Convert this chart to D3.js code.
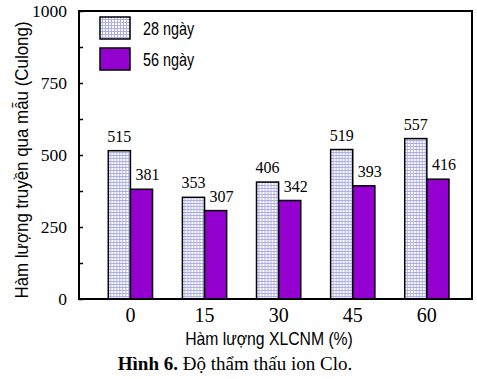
<!DOCTYPE html>
<html lang="vi">
<head>
<meta charset="UTF-8"/>
<title>Độ thẩm thấu ion Clo</title>
<script src="https://d3js.org/d3.v7.min.js"></script>
<style>
  body { margin: 0; background: #fff; }
  .tick text { font-family: "Liberation Serif", "Times New Roman", serif; fill: #000; }
  .sans { font-family: "Liberation Sans", Arial, sans-serif; }
</style>
</head>
<body>
<script>
    // Data
    var categories = ["0", "15", "30", "45", "60"];
    var seriesNames = ["28 ngày", "56 ngày"];
    var values28 = [515, 353, 406, 519, 557];
    var values56 = [381, 307, 342, 393, 416];
    var yTicks = [0, 250, 500, 750, 1000];
    var yMinorTicks = [125, 375, 625, 875];

    var w = 477, h = 379;
    var plotLeft = 79, plotRight = 472, plotTop = 11, plotBottom = 299;

    var table = categories.map(function (c, i) {
        return { cat: c, vals: [values28[i], values56[i]] };
    });

    var svg = d3.select("body").append("svg")
        .attr("width", w)
        .attr("height", h);

    // dotted lavender pattern for the 28-day bars
    var defs = svg.append("defs");
    var pat = defs.append("pattern")
        .attr("id", "dots")
        .attr("width", 3).attr("height", 3)
        .attr("patternUnits", "userSpaceOnUse");
    pat.append("rect").attr("width", 3).attr("height", 3).attr("fill", "#aeaee6");
    pat.append("rect").attr("width", 2).attr("height", 2).attr("fill", "#ffffff");

    var fills = ["url(#dots)", "#9400cf"];
    var labelShift = [0, 6];

    // Scales
    var x = d3.scaleBand()
        .domain(categories)
        .range([plotLeft, plotRight])
        .paddingInner(0.403)
        .paddingOuter(0.353)
        .align(0.56);

    var xSub = d3.scaleBand()
        .domain(d3.range(seriesNames.length))
        .range([0, x.bandwidth()]);

    var y = d3.scaleLinear()
        .domain([0, 1000])
        .range([plotBottom, plotTop]);

    // Bars
    var groups = svg.selectAll("g.cat")
        .data(table)
        .enter()
        .append("g")
        .attr("class", "cat")
        .attr("transform", function (d) { return "translate(" + x(d.cat) + ",0)"; });

    groups.selectAll("rect")
        .data(function (d) { return d.vals; })
        .enter()
        .append("rect")
        .attr("x", function (d, i) { return xSub(i); })
        .attr("y", function (d) { return y(d); })
        .attr("width", xSub.bandwidth())
        .attr("height", function (d) { return y(0) - y(d); })
        .attr("fill", function (d, i) { return fills[i]; })
        .attr("stroke", "#000")
        .attr("stroke-width", 1.5);

    groups.selectAll("text")
        .data(function (d) { return d.vals; })
        .enter()
        .append("text")
        .attr("x", function (d, i) { return xSub(i) + xSub.bandwidth() / 2 + labelShift[i]; })
        .attr("y", function (d) { return y(d) - 9; })
        .attr("text-anchor", "middle")
        .style("font-family", "'Liberation Serif', 'Times New Roman', serif")
        .style("font-size", "16px")
        .text(function (d) { return d; });

    // Y axis (ticks inward)
    var yAxis = svg.append("g")
        .attr("transform", "translate(" + plotLeft + ",0)")
        .call(d3.axisLeft(y).tickValues(yTicks).tickSize(-4).tickPadding(12).tickFormat(d3.format("d")));
    yAxis.selectAll(".tick text").style("font-size", "17.5px");
    yAxis.select(".domain").remove();

    svg.append("g")
        .attr("transform", "translate(" + plotLeft + ",0)")
        .call(d3.axisLeft(y).tickValues(yMinorTicks).tickSize(-4).tickFormat(""))
        .select(".domain").remove();

    svg.selectAll(".tick line").attr("stroke", "#000").attr("stroke-width", 1.5);

    // X axis labels
    var xAxis = svg.append("g")
        .attr("transform", "translate(0," + plotBottom + ")")
        .call(d3.axisBottom(x).tickSize(0).tickPadding(9));
    xAxis.selectAll(".tick text").style("font-size", "20px").attr("dy", "0.71em");
    xAxis.select(".domain").remove();

    // Frame
    svg.append("rect")
        .attr("x", plotLeft).attr("y", plotTop)
        .attr("width", plotRight - plotLeft).attr("height", plotBottom - plotTop)
        .attr("fill", "none")
        .attr("stroke", "#000")
        .attr("stroke-width", 2);

    // Legend
    var legend = svg.append("g").attr("transform", "translate(100,17)");
    seriesNames.forEach(function (name, i) {
        legend.append("rect")
            .attr("x", 0).attr("y", i * 31)
            .attr("width", 30).attr("height", 22)
            .attr("fill", fills[i])
            .attr("stroke", "#000")
            .attr("stroke-width", 1.5);
        legend.append("text")
            .attr("class", "sans")
            .attr("transform", "translate(43," + (i * 31 + 18) + ") scale(0.8,1)")
            .style("font-size", "18px")
            .text(name);
    });

    // Axis titles
    svg.append("text")
        .attr("class", "sans")
        .attr("transform", "translate(28,160) rotate(-90) scale(0.94,1)")
        .attr("text-anchor", "middle")
        .style("font-size", "18px")
        .text("Hàm lượng truyền qua mẫu (Culong)");

    svg.append("text")
        .attr("class", "sans")
        .attr("transform", "translate(269,345) scale(0.9,1)")
        .attr("text-anchor", "middle")
        .style("font-size", "17.5px")
        .text("Hàm lượng XLCNM (%)");

    // Caption
    var cap = svg.append("text")
        .attr("x", 235).attr("y", 370)
        .attr("text-anchor", "middle")
        .style("font-family", "'Liberation Serif', 'Times New Roman', serif")
        .style("font-size", "19px");
    cap.append("tspan").style("font-weight", "bold").text("Hình 6. ");
    cap.append("tspan").text("Độ thẩm thấu ion Clo.");
</script>
</body>
</html>
